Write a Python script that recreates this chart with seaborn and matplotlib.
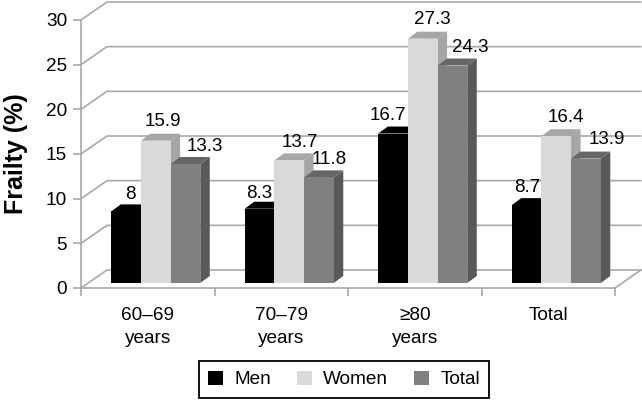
import matplotlib
matplotlib.use('Agg')
import matplotlib.pyplot as plt
import pandas as pd
import seaborn as sns
from matplotlib.patches import Polygon

groups = ['60–69\nyears', '70–79\nyears', '≥80\nyears', 'Total']
series = ['Men', 'Women', 'Total']
men = [8, 8.3, 16.7, 8.7]
women = [15.9, 13.7, 27.3, 16.4]
total = [13.3, 11.8, 24.3, 13.9]
yticks = [0, 5, 10, 15, 20, 25, 30]

bar_colors = {'Men': '#000000', 'Women': '#d9d9d9', 'Total': '#808080'}
side_colors = ['#000000', '#a6a6a6', '#595959']
top_colors = ['#000000', '#a6a6a6', '#666666']
grid_col = '#a8a8a8'

df = pd.DataFrame({
    'group': groups * 3,
    'series': ['Men'] * 4 + ['Women'] * 4 + ['Total'] * 4,
    'value': men + women + total,
})

sns.set_theme(style='white')
plt.rcParams['font.family'] = ['Liberation Sans', 'DejaVu Sans']

W, H = 642, 400
fig = plt.figure(figsize=(6.42, 4.0), dpi=100)

def px_axes(x0, x1, ytop, ybot):
    return fig.add_axes([x0 / W, 1 - ybot / H, (x1 - x0) / W, (ybot - ytop) / H])

# front plane of the fake 3d box: axis lines, ticks, labels
frame = px_axes(81, 615, 20, 288)
frame.set_xlim(0, 4)
frame.set_ylim(0, 30)
frame.patch.set_alpha(0)
for s in ['top', 'right']:
    frame.spines[s].set_visible(False)
for s in ['left', 'bottom']:
    frame.spines[s].set_color(grid_col)
    frame.spines[s].set_linewidth(1.2)
frame.set_yticks(yticks)
frame.set_xticks(range(5))
frame.set_xticklabels([])
frame.set_xticks([0.5, 1.5, 2.5, 3.5], labels=groups, minor=True)
frame.tick_params(axis='both', which='major', length=6, width=1.2, color=grid_col,
                  left=True, bottom=True, labelsize=13.7, labelcolor='black', pad=4)
frame.tick_params(axis='x', which='minor', length=0, bottom=False, labelsize=13.7, labelcolor='black', pad=14)
for t in frame.get_xticklabels(minor=True):
    t.set_linespacing(1.45)
frame.set_ylabel('Frailty (%)', fontsize=18, fontweight='bold', color='black', labelpad=13)

# back wall, floor edges
bx = 26 / (534 / 4)
by = 18 / (268 / 30)
for v in yticks:
    frame.plot([0, bx, 4 + bx], [v, v + by, v + by], color=grid_col, lw=1.2, clip_on=False, zorder=1)
frame.plot([4, 4 + bx], [0, by], color=grid_col, lw=1.2, clip_on=False, zorder=1)

# bars sit part way into the box
ax = px_axes(89, 623, 14.5, 283)
ax.patch.set_alpha(0)
sns.barplot(data=df, x='group', y='value', hue='series', hue_order=series, order=groups,
            palette=bar_colors, width=0.667, gap=0, saturation=1, legend=False, ax=ax)
ax.set_xlim(-0.5, 3.5)
ax.set_ylim(0, 30)
ax.axis('off')

dx = 9.5 / (534 / 4)
dy = 7 / (268.5 / 30)
# label shifts in pixels, the original has them placed by hand
nudge_x = [4.5, 0, -5.5, 1, 7, 10.5, 10, 9.5, 19, 10.5, 18, 20.5]
nudge_y = [17, 15, 18, 18, 19.5, 18, 19.5, 18.5, 17, 18, 18, 19]

for i, p in enumerate(ax.patches[:12]):
    k = i // 4
    x0, x1 = p.get_x(), p.get_x() + p.get_width()
    h = p.get_height()
    z = 3 + p.get_x() * 10
    p.set_zorder(z + 0.2)
    p.set_linewidth(0)
    ax.add_patch(Polygon([(x1, 0), (x1 + dx, dy), (x1 + dx, h + dy), (x1, h)], closed=True,
                         fc=side_colors[k], ec='none', zorder=z, clip_on=False))
    ax.add_patch(Polygon([(x0, h), (x1, h), (x1 + dx, h + dy), (x0 + dx, h + dy)], closed=True,
                         fc=top_colors[k], ec='none', zorder=z + 0.1, clip_on=False))
    ax.annotate(f'{h:g}', (x0 + (x1 - x0) / 2, h), xytext=(nudge_x[i] * 0.72, nudge_y[i] * 0.72),
                textcoords='offset points', ha='center', va='center', fontsize=13.5, color='black',
                zorder=20, annotation_clip=False)

handles = [plt.Rectangle((0, 0), 1, 1, fc=bar_colors[s], ec='none') for s in series]
leg = fig.legend(handles, series, loc='center', bbox_to_anchor=(344 / W, 1 - 379.5 / H), ncol=3, frameon=True,
                 fancybox=False, edgecolor='black', framealpha=1, fontsize=13.7, handlelength=0.8, handleheight=0.8,
                 columnspacing=1.35, handletextpad=0.58, borderpad=0.5, borderaxespad=0, labelcolor='black')
leg.get_frame().set_linewidth(1.3)

fig.savefig('out.png', dpi=100)
